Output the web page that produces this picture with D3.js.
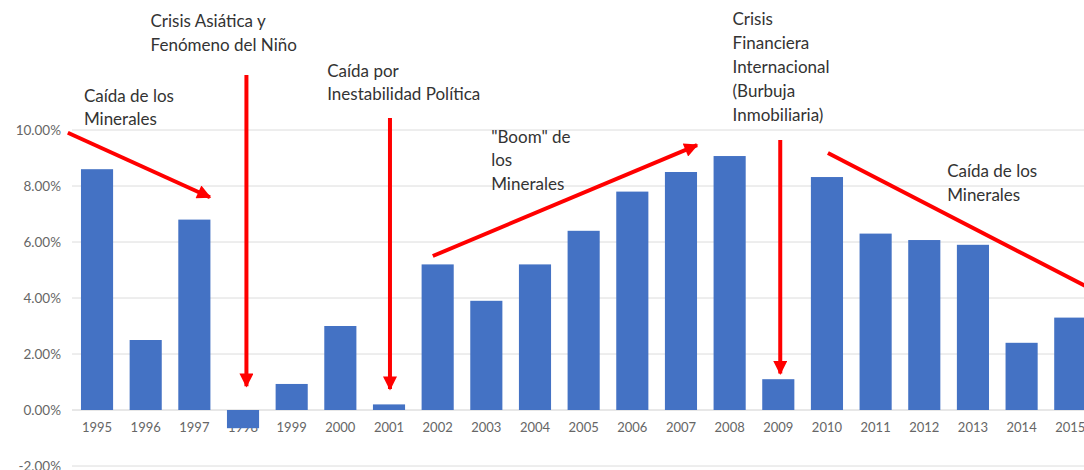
<!DOCTYPE html>
<html>
<head>
<meta charset="utf-8">
<script src="https://cdn.jsdelivr.net/npm/d3@7"></script>
<style>
  body { margin: 0; background: #fff; overflow: hidden; }
  text { font-family: Lato, "Open Sans", sans-serif; }
  .tick-label { fill: #666; font-size: 13px; }
  .y-label { font-size: 13.5px; }
  .note { fill: #333; font-size: 17px; }
</style>
</head>
<body>
<script>
let width = 1084,
    height = 470;

// data
let years = ["1995", "1996", "1997", "1998", "1999", "2000", "2001", "2002", "2003", "2004",
             "2005", "2006", "2007", "2008", "2009", "2010", "2011", "2012", "2013", "2014", "2015"];
let growth = [8.6, 2.5, 6.8, -0.65, 0.93, 3.0, 0.2, 5.2, 3.9, 5.2,
              6.4, 7.8, 8.5, 9.07, 1.1, 8.32, 6.3, 6.07, 5.9, 2.4, 3.3];
let yTicks = [-2, 0, 2, 4, 6, 8, 10];

// annotations: anchored on year index (i) and percent value (v)
let notes = [
    {i: -0.27, v: 11.0, lines: ["Caída de los", "Minerales"], step: 23},
    {i: 1.1, v: 13.68, lines: ["Crisis Asiática y", "Fenómeno del Niño"], step: 24},
    {i: 4.73, v: 11.89, lines: ["Caída por", "Inestabilidad Política"], step: 23},
    {i: 8.1, v: 9.54, lines: ["\"Boom\" de", "los", "Minerales"], step: 23.5},
    {i: 13.06, v: 13.75, lines: ["Crisis", "Financiera", "Internacional", "(Burbuja", "Inmobiliaria)"], step: 24},
    {i: 17.47, v: 8.32, lines: ["Caída de los", "Minerales"], step: 24}
];
let arrows = [
    {i1: -0.6, v1: 9.9, i2: 2.32, v2: 7.6},
    {i1: 3.07, v1: 11.96, i2: 3.07, v2: 0.85},
    {i1: 6.02, v1: 10.43, i2: 6.02, v2: 0.75},
    {i1: 6.9, v1: 5.5, i2: 12.33, v2: 9.46},
    {i1: 14.04, v1: 9.64, i2: 14.04, v2: 1.3},
    {i1: 15.02, v1: 9.18, i2: 20.9, v2: 3.9}
];

let svg = d3.select('body').append('svg')
    .attr('width', width)
    .attr('height', height);

let x = d3.scaleBand()
    .domain(years)
    .range([72.7, 1094.6])
    .paddingInner(0.34)
    .paddingOuter(0.17);

let y = d3.scaleLinear()
    .domain([-2, 10])
    .range([466, 130]);

// continuous x for annotations, in year-index units
let xi = i => x(years[0]) + x.bandwidth() / 2 + i * x.step();

// gridlines
svg.append('g')
    .selectAll('line')
    .data(yTicks)
    .enter().append('line')
    .attr('x1', 72)
    .attr('x2', width)
    .attr('y1', d => y(d))
    .attr('y2', d => y(d))
    .attr('stroke', d => d === 0 ? '#d0d0d0' : '#dcdcdc')
    .attr('stroke-width', 1);

// y axis labels
svg.append('g')
    .selectAll('text')
    .data(yTicks)
    .enter().append('text')
    .attr('class', 'tick-label y-label')
    .attr('x', 61)
    .attr('y', d => y(d))
    .attr('dy', '0.35em')
    .attr('text-anchor', 'end')
    .text(d => d.toFixed(2) + '%');

// x labels (under the bars, the 1998 bar covers its label)
svg.append('g')
    .selectAll('text')
    .data(years)
    .enter().append('text')
    .attr('class', 'tick-label')
    .attr('x', d => x(d) + x.bandwidth() / 2)
    .attr('y', y(0) + 22)
    .attr('text-anchor', 'middle')
    .text(d => d);

// bars
let rows = years.map((yr, k) => ({year: yr, value: growth[k]}));
svg.append('g')
    .selectAll('rect')
    .data(rows)
    .enter().append('rect')
    .attr('x', d => x(d.year))
    .attr('width', x.bandwidth())
    .attr('y', d => y(Math.max(0, d.value)))
    .attr('height', d => Math.abs(y(d.value) - y(0)))
    .attr('fill', '#4472c4');

// arrows
svg.append('defs').append('marker')
    .attr('id', 'head')
    .attr('viewBox', '0 0 10 10')
    .attr('refX', 9)
    .attr('refY', 5)
    .attr('markerUnits', 'userSpaceOnUse')
    .attr('markerWidth', 16)
    .attr('markerHeight', 14)
    .attr('orient', 'auto')
    .append('path')
    .attr('d', 'M0,0L10,5L0,10Z')
    .attr('fill', '#ff0000');

svg.append('g')
    .selectAll('line')
    .data(arrows)
    .enter().append('line')
    .attr('x1', a => xi(a.i1))
    .attr('y1', a => y(a.v1))
    .attr('x2', a => xi(a.i2))
    .attr('y2', a => y(a.v2))
    .attr('stroke', '#ff0000')
    .attr('stroke-width', 4)
    .attr('marker-end', 'url(#head)');

// annotation texts
let noteG = svg.append('g')
    .selectAll('text')
    .data(notes)
    .enter().append('text')
    .attr('class', 'note')
    .attr('x', n => xi(n.i))
    .attr('y', n => y(n.v));

noteG.selectAll('tspan')
    .data(n => n.lines.map((t, k) => ({t: t, k: k, step: n.step, x: xi(n.i)})))
    .enter().append('tspan')
    .attr('x', d => d.x)
    .attr('dy', d => d.k === 0 ? 0 : d.step)
    .text(d => d.t);
</script>
</body>
</html>
